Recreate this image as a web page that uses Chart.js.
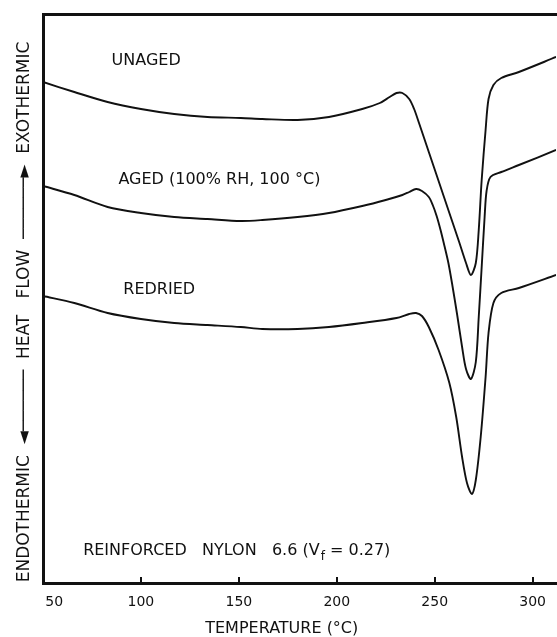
<!DOCTYPE html>
<html>
<head>
<meta charset="utf-8">
<script src="https://cdn.jsdelivr.net/npm/chart.js@4.4.1/dist/chart.umd.min.js"></script>
<style>
  html, body { margin: 0; padding: 0; background: #fff; }
</style>
</head>
<body>
<canvas id="dscChart" width="557" height="637"></canvas>
<script>
// DSC traces, reinforced nylon 6.6. Temperature in °C, heat flow in arbitrary units (axis bottom = 0)
const tempUnaged = [50, 66, 83, 100, 117, 134, 151, 162, 180, 196, 213, 222, 227, 230.5, 233.5, 237, 239.5, 242, 247, 252, 257.5, 262.5, 266, 268.5, 271, 272.5, 274, 276, 277.5, 280, 284, 293, 312];
const flowUnaged = [501, 491, 481, 474, 469, 466, 465, 464, 463, 466, 474, 480, 486, 490, 490, 484, 474, 460, 431, 402, 370, 341, 320, 308, 320, 353, 403, 453, 484, 498, 505, 511, 526];

const tempAged = [50, 66, 83, 100, 117, 134, 151, 162, 180, 196, 213, 225, 233.5, 237, 240.5, 243.5, 247, 249, 251, 253, 255, 257, 259, 261.5, 264, 266, 268.5, 271, 272.5, 274, 275.5, 276.5, 278.5, 284, 293, 312];
const flowAged = [397, 388, 376, 370, 366, 364, 362, 363, 366, 370, 377, 383, 388, 391, 394, 392, 386, 378, 367, 353, 337, 320, 298, 268, 236, 214, 204, 221, 266, 316, 366, 392, 406, 411, 418, 433];

const tempRedried = [50, 66, 83, 100, 117, 134, 151, 162, 180, 196, 213, 230.5, 237, 240.5, 243.5, 247, 252, 257.5, 261, 264, 266.5, 269, 271, 273.5, 276, 277.5, 280, 284, 293, 312];
const flowRedried = [287, 280, 270, 264, 260, 258, 256, 254, 254, 256, 260, 265, 269, 270, 267, 256, 233, 200, 166, 126, 100, 89, 103, 146, 206, 250, 280, 290, 295, 308];

const xTicks = [50, 100, 150, 200, 250, 300];

const ink = '#111';
const fontFamily = '"DejaVu Sans", sans-serif';

function toPoints(xs, ys) {
    return xs.map((t, i) => ({ x: t, y: ys[i] }));
}

function trace(label, xs, ys) {
    return {
        label: label,
        data: toPoints(xs, ys),
        borderColor: ink,
        borderWidth: 1.9,
        pointRadius: 0,
        fill: false,
        tension: 0.3
    };
}

// inward tick marks and the text written inside the plot
const annotations = {
    id: 'annotations',
    afterDraw(chart) {
        const { ctx, chartArea, scales: { x, y } } = chart;
        ctx.save();
        ctx.strokeStyle = ink;
        ctx.lineWidth = 2;
        xTicks.slice(1).forEach(t => {
            const px = Math.round(x.getPixelForValue(t));
            ctx.beginPath();
            ctx.moveTo(px, chartArea.bottom);
            ctx.lineTo(px, chartArea.bottom - 6);
            ctx.stroke();
        });

        ctx.fillStyle = ink;
        ctx.textBaseline = 'middle';
        ctx.font = '16px ' + fontFamily;
        ctx.fillText('UNAGED', x.getPixelForValue(85), y.getPixelForValue(522));
        ctx.fillText('AGED (100% RH, 100 °C)', x.getPixelForValue(88.5), y.getPixelForValue(403));
        ctx.fillText('REDRIED', x.getPixelForValue(91), y.getPixelForValue(293));

        // sample note with subscript
        let px = x.getPixelForValue(70.5);
        const py = y.getPixelForValue(32);
        const main = 'REINFORCED   NYLON   6.6 (V';
        ctx.fillText(main, px, py);
        px += ctx.measureText(main).width;
        ctx.font = '12px ' + fontFamily;
        ctx.fillText('f', px + 1, py + 6);
        px += ctx.measureText('f').width + 1;
        ctx.font = '16px ' + fontFamily;
        ctx.fillText(' = 0.27)', px, py);
        ctx.restore();
    }
};

const ctx = document.getElementById('dscChart').getContext('2d');

new Chart(ctx, {
    type: 'line',
    data: {
        datasets: [
            trace('UNAGED', tempUnaged, flowUnaged),
            trace('AGED (100% RH, 100 °C)', tempAged, flowAged),
            trace('REDRIED', tempRedried, flowRedried)
        ]
    },
    options: {
        responsive: false,
        animation: false,
        layout: { padding: { left: 0, top: 14, right: 0, bottom: 0 } },
        plugins: {
            legend: { display: false },
            tooltip: { enabled: false }
        },
        scales: {
            x: {
                type: 'linear',
                position: 'bottom',
                min: 50,
                max: 312,
                afterBuildTicks: scale => { scale.ticks = xTicks.map(v => ({ value: v })); },
                afterFit: scale => { scale.height = 54; },
                ticks: {
                    color: ink,
                    padding: 11,
                    font: { family: fontFamily, size: 14 },
                    maxRotation: 0,
                    callback: v => (v === 50 ? '     50' : String(v))
                },
                grid: { display: false, drawTicks: false },
                border: { display: true, color: ink, width: 3 },
                title: {
                    display: true,
                    text: 'TEMPERATURE (°C)       ',
                    color: ink,
                    font: { family: fontFamily, size: 16, lineHeight: 1 },
                    padding: { top: 0, bottom: 0 }
                }
            },
            xTop: {
                type: 'linear',
                position: 'top',
                min: 50,
                max: 312,
                afterFit: scale => { scale.height = 0; },
                ticks: { display: false },
                grid: { display: false, drawTicks: false },
                border: { display: true, color: ink, width: 3 }
            },
            y: {
                type: 'linear',
                min: 0,
                max: 569,
                afterFit: scale => { scale.width = 43; },
                ticks: { display: false },
                grid: { display: false, drawTicks: false },
                border: { display: true, color: ink, width: 3 },
                title: {
                    display: true,
                    text: 'ENDOTHERMIC  \u25C4\u2500\u2500\u2500\u2500\u2500\u2500  HEAT   FLOW  \u2500\u2500\u2500\u2500\u2500\u2500\u25BA  EXOTHERMIC     ',
                    color: ink,
                    font: { family: fontFamily, size: 17, lineHeight: 1 },
                    padding: { top: 16, bottom: 0 }
                }
            }
        }
    },
    plugins: [annotations]
});
</script>
</body>
</html>
